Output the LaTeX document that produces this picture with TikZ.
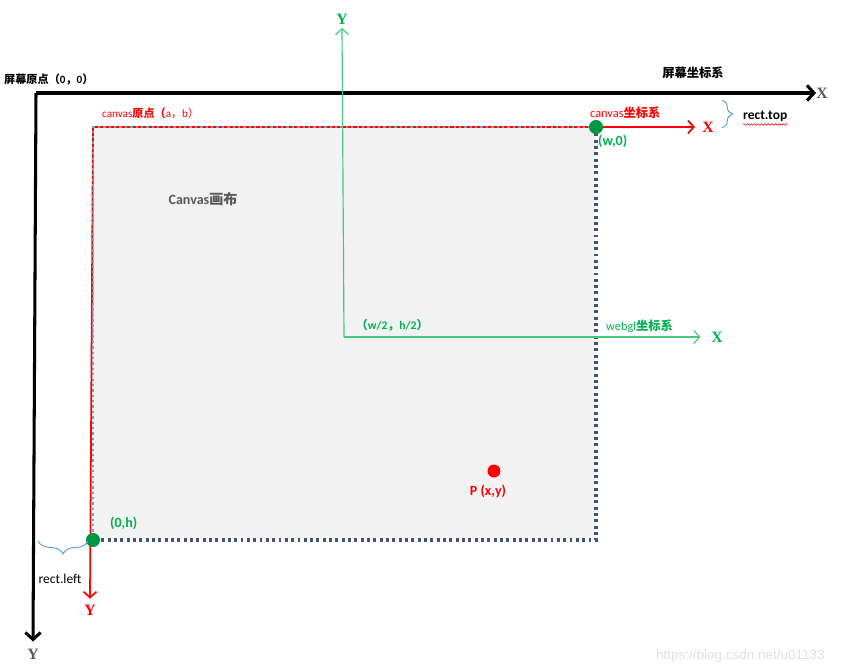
\documentclass[tikz,border=0pt]{standalone}
\usepackage{fontspec}
\setmainfont{Carlito}
\newfontfamily\cjk{Noto Sans CJK SC}
\newfontfamily\axfont{Liberation Serif}
\usetikzlibrary{arrows.meta,positioning,decorations.pathreplacing,decorations.pathmorphing}

\definecolor{scrred}{RGB}{255,0,0}
\definecolor{glgreen}{RGB}{0,176,80}
\definecolor{glline}{RGB}{70,200,125}
\definecolor{dotgray}{RGB}{68,84,106}
\definecolor{canvasbg}{RGB}{242,242,242}
\definecolor{bracecol}{RGB}{91,155,213}
\definecolor{txtgray}{RGB}{89,89,89}

\begin{document}
\begin{tikzpicture}[x=0.03cm, y=-0.03cm,
  lbl/.style={inner sep=0pt, font=\fontsize{9.5}{11}\selectfont},
  axlbl/.style={inner sep=0pt, font=\fontsize{13.5}{14}\axfont\bfseries},
  barb/.style={-{Straight Barb[length=5pt,width=11pt]}},
  dotline/.style={dotgray, line width=2.6pt, dash pattern=on 2.5pt off 2.9pt},
  ptdot/.style={circle, fill, inner sep=0pt, minimum size=#1}
]
\useasboundingbox (0,0) rectangle (854,668);

% Canvas area
\fill[canvasbg] (93,127) rectangle (596,540);
\coordinate (co) at (93,127);
\coordinate (cw) at (596,127);
\coordinate (ch) at (93,540);
\coordinate (cwh) at (596,540);
\draw[dotline] (cw) -- (cwh) -- (ch);

% Screen axes
\coordinate (so) at (36,93);
\node[axlbl, txtgray] (sx) at (822,93) {X};
\node[axlbl, txtgray] (sy) at (33,654) {Y};
\draw[barb, line width=2.6pt, -{Straight Barb[length=6pt,width=13pt]}] (36,93) -- (sx.west);
\draw[barb, line width=2.6pt, -{Straight Barb[length=6pt,width=13pt]}] (so) -- ([yshift=6pt]sy.north);
\node[lbl, anchor=west, font=\fontsize{9.5}{11}\selectfont\bfseries] (sorig) at (4,80)
  {{\cjk 屏幕原点（}0{\cjk ，}0{\cjk ）}};
\node[lbl, font=\fontsize{10.5}{12}\cjk\bfseries] (stitle) at (693,73) {屏幕坐标系};

% Canvas axes
\node[axlbl, scrred] (cx) at (708,127) {X};
\node[axlbl, scrred] (cy) at (90,610) {Y};
\draw[barb, scrred, line width=1.5pt] (co) -- ([xshift=-6pt]cx.west);
\draw[barb, scrred, line width=1.5pt] (co) -- ([yshift=5pt]cy.north);
\draw[dotgray!60, line width=1pt, dash pattern=on 2pt off 2.6pt] (cw) -- (co) -- (ch);
\node[lbl, scrred, anchor=west] (corig) at (102,113)
  {canvas{\cjk\bfseries 原点（}a{\cjk ，}b{\cjk ）}};
\node[lbl, scrred, anchor=west, font=\fontsize{10.5}{12}\selectfont] (ctitle) at (590,113)
  {canvas{\cjk\bfseries 坐标系}};
\node[lbl, txtgray, font=\fontsize{12}{14}\selectfont\bfseries] (cname) at (203,199)
  {Canvas{\cjk 画布}};

% Corner points
\node[ptdot=12pt, fill=glgreen!85!black] (pw) at (cw) {};
\node[ptdot=12pt, fill=glgreen!85!black] (ph) at (ch) {};
\node[lbl, glgreen, anchor=west, font=\fontsize{12}{14}\selectfont\bfseries] (pwl) at (598,141) {(w,0)};
\node[lbl, glgreen, anchor=west, font=\fontsize{12}{14}\selectfont\bfseries] (phl) at (110,523) {(0,h)};

% WebGL axes
\coordinate (go) at (344,337);
\node[axlbl, glgreen] (gx) at (717,337) {X};
\node[axlbl, glgreen] (gy) at (342,19) {Y};
\draw[barb, glline, line width=1pt] (go) -- ([xshift=-9pt]gx.west);
\draw[barb, glline, line width=1pt] (go) -- ([yshift=-3pt]gy.south);
\node[lbl, glgreen, anchor=west, font=\fontsize{10}{12}\selectfont\bfseries] (gorig) at (356,325)
  {{\cjk （}w/2{\cjk ，}h/2{\cjk ）}};
\node[lbl, glgreen, anchor=west, font=\fontsize{10.5}{12}\selectfont] (gtitle) at (606,326)
  {webgl{\cjk\bfseries 坐标系}};

% Point P
\node[ptdot=11pt, fill=scrred] (p) at (494,471) {};
\node[lbl, scrred, font=\fontsize{12}{14}\selectfont\bfseries] (pl) at (488,491) {P (x,y)};

% rect.top / rect.left
\coordinate (bt1) at (722,100);
\coordinate (bt2) at (722,128);
\draw[bracecol, line width=0.8pt, decorate, decoration={brace, amplitude=9pt}] (bt1) -- (bt2);
\node[lbl, anchor=west, font=\fontsize{11.5}{13}\selectfont\bfseries] (rtop) at (743,116) {rect.top};
\draw[scrred, line width=0.5pt, decorate, decoration={snake, amplitude=0.7pt, segment length=3pt}]
  ([yshift=-2.5pt]rtop.south west) -- ([yshift=-2.5pt]rtop.south east);
\coordinate (bl1) at (88,541);
\coordinate (bl2) at (38,541);
\draw[bracecol, line width=0.8pt, decorate, decoration={brace, amplitude=11pt}] (bl1) -- (bl2);
\node[lbl, font=\fontsize{11.5}{13}\selectfont] (rleft) at (60,579) {rect.left};

% watermark
\node[lbl, anchor=west, black!12, font=\fontsize{11.5}{14}\fontspec{Liberation Sans}] (wm) at (656,656)
  {https://blog.csdn.net/u01133};
\end{tikzpicture}
\end{document}
